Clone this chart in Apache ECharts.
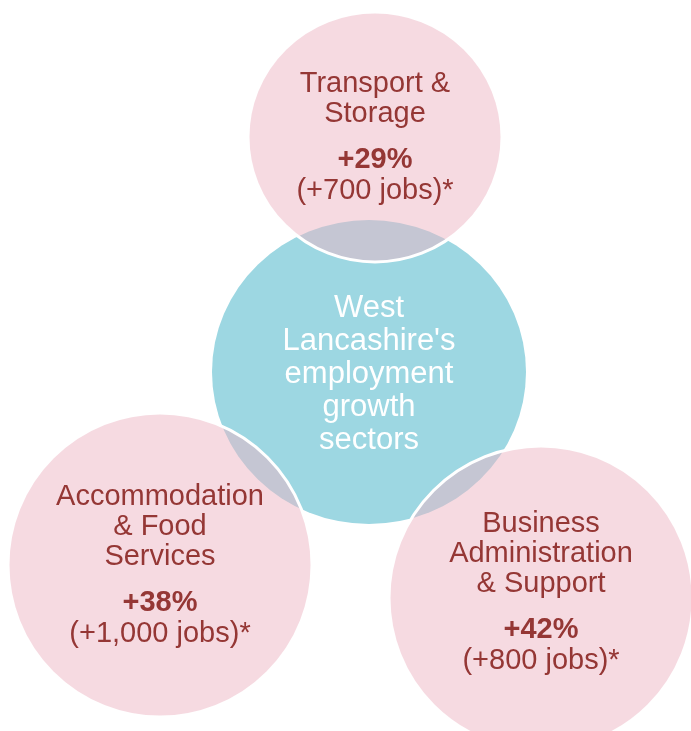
<!DOCTYPE html>
<html>
<head>
<meta charset="utf-8">
<script src="https://cdn.jsdelivr.net/npm/echarts@6/dist/echarts.min.js"></script>
<style>
  html, body { margin: 0; padding: 0; background: #fff; }
  #chart { width: 691px; height: 731px; }
</style>
</head>
<body>
<div id="chart"></div>
<script>
// growth sectors
var sectors = ['Transport &\nStorage', 'Accommodation\n& Food\nServices', 'Business\nAdministration\n& Support'];
var growthPct = [29, 38, 42];
var extraJobs = [700, 1000, 800];
var centreLabel = "West\nLancashire's\nemployment\ngrowth\nsectors";

// diagram layout (centre x, centre y, radius x, radius y) in the hidden axis units
var centreCircle = [369, 372, 157, 152];
var sectorCircles = [[375, 137, 127, 125], [160, 565, 152, 152], [541, 598, 152, 152]];

var textColor = '#953735';
var fontFam = '"Liberation Sans", Arial, sans-serif';

function fmt(n) {
  return n.toString().replace(/\B(?=(\d{3})+(?!\d))/g, ',');
}

var chart = echarts.init(document.getElementById('chart'));

function circleItem(params, api, fill, border, text, rich, dy) {
  var c = api.coord([api.value(0), api.value(1)]);
  var sz = api.size([api.value(2), api.value(3)]);
  return {
    type: 'group',
    children: [
      {
        type: 'circle',
        shape: { cx: c[0], cy: c[1], r: sz[0] },
        scaleY: sz[1] / sz[0],
        originX: c[0],
        originY: c[1],
        style: { fill: fill, stroke: border ? '#fff' : null, lineWidth: border ? 3 : 0, strokeNoScale: true }
      },
      {
        type: 'text',
        x: c[0],
        y: c[1] + (dy || 0),
        style: {
          text: text,
          rich: rich,
          align: 'center',
          verticalAlign: 'middle',
          fontFamily: fontFam
        }
      }
    ]
  };
}

var centreRich = {
  w: { fontSize: 31, lineHeight: 33, fill: '#fff', fontFamily: fontFam, align: 'center' }
};
var sectorRich = {
  n: { fontSize: 29, lineHeight: 30, fill: textColor, fontFamily: fontFam, align: 'center' },
  s: { fontSize: 10, lineHeight: 16, fill: textColor, fontFamily: fontFam },
  p: { fontSize: 29, lineHeight: 30, fontWeight: 'bold', fill: textColor, fontFamily: fontFam, align: 'center' },
  j: { fontSize: 29, lineHeight: 32, fill: textColor, fontFamily: fontFam, align: 'center' }
};

function sectorText(i) {
  var lines = sectors[i].split('\n').map(function (l) { return '{n|' + l + '}'; });
  lines.push('{s| }');
  lines.push('{p|+' + growthPct[i] + '%}');
  lines.push('{j|(+' + fmt(extraJobs[i]) + ' jobs)*}');
  return lines.join('\n');
}

var option = {
  animation: false,
  grid: { left: 0, right: 0, top: 0, bottom: 0 },
  xAxis: { type: 'value', min: 0, max: 691, show: false },
  yAxis: { type: 'value', min: 0, max: 731, inverse: true, show: false },
  series: [
    {
      type: 'custom',
      coordinateSystem: 'cartesian2d',
      data: [centreCircle],
      renderItem: function (params, api) {
        var t = centreLabel.split('\n').map(function (l) { return '{w|' + l + '}'; }).join('\n');
        return circleItem(params, api, '#9DD7E2', false, t, centreRich, 2);
      }
    },
    {
      type: 'custom',
      coordinateSystem: 'cartesian2d',
      data: sectorCircles,
      renderItem: function (params, api) {
        var dy = params.dataIndex === 2 ? -5 : 1;
        return circleItem(params, api, 'rgba(237,181,195,0.5)', true, sectorText(params.dataIndex), sectorRich, dy);
      }
    }
  ]
};

chart.setOption(option);
</script>
</body>
</html>
